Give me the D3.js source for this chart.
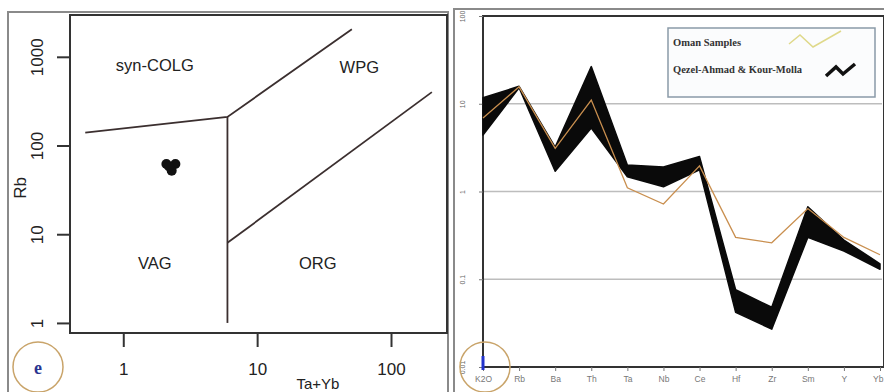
<!DOCTYPE html>
<html>
<head>
<meta charset="utf-8">
<script src="https://cdn.jsdelivr.net/npm/d3@7"></script>
<style>
  body { margin: 0; background: #fff; }
  svg { display: block; }
</style>
</head>
<body>
<svg id="chart" width="884" height="392"></svg>
<script>
// ---- left panel data: Rb vs Ta+Yb (Pearce 1984) ----
var taYb = [2.1, 2.45, 2.3, 2.2];
var rb = [62, 62, 52, 58];
var xTicksL = [1, 10, 100];
var yTicksL = [1, 10, 100, 1000];
// field boundaries [Ta+Yb, Rb]
var colgLine = [[0.52, 140], [6, 210], [51, 2050]];
var vertLine = [[6, 210], [6, 1]];
var orgLine = [[6, 8], [202, 400]];
var fieldNames = ["syn-COLG", "WPG", "VAG", "ORG"];
var fieldPos = [[1.72, 810], [58, 770], [1.72, 4.75], [28.4, 4.75]];

// ---- right panel data: ORG-normalised spider diagram ----
var elements = ["K2O", "Rb", "Ba", "Th", "Ta", "Nb", "Ce", "Hf", "Zr", "Sm", "Y", "Yb"];
var bandUpper = [11.7, 15.8, 3.2, 26.5, 2.0, 1.9, 2.5, 0.076, 0.048, 0.67, 0.28, 0.15];
var bandLower = [4.4, 15.2, 1.7, 5.3, 1.47, 1.13, 1.77, 0.042, 0.027, 0.30, 0.21, 0.13];
var oman = [6.9, 15.6, 3.1, 11, 1.1, 0.72, 1.96, 0.30, 0.26, 0.64, 0.30, 0.19];
var yTicksR = [0.01, 0.1, 1, 10, 100];
var legendNames = ["Oman Samples", "Qezel-Ahmad & Kour-Molla"];

var svg = d3.select("#chart");
var ink = "#3b2f2f";
var sans = "Liberation Sans, Arial, sans-serif";

// ================= left panel =================
var left = svg.append("g");
left.append("rect").attr("x", 8).attr("y", 12).attr("width", 440).attr("height", 382)
  .attr("fill", "none").attr("stroke", "#8a8a8a").attr("stroke-width", 2);

var xL = d3.scaleLog().domain([0.4, 262]).range([70, 447]);
var yL = d3.scaleLog().domain([0.77, 2960]).range([333, 15]);

left.append("rect").attr("x", 70).attr("y", 15).attr("width", 377).attr("height", 318)
  .attr("fill", "none").attr("stroke", "#333").attr("stroke-width", 2);

var xAxisL = left.append("g").attr("transform", "translate(0,333)")
  .call(d3.axisBottom(xL).tickValues(xTicksL).tickFormat(d3.format("d")).tickSize(14).tickPadding(16));
xAxisL.select(".domain").remove();
xAxisL.selectAll("line").attr("stroke", "#333").attr("stroke-width", 2);
xAxisL.selectAll("text").attr("font-family", sans).attr("font-size", 17).attr("fill", "#222");

var yAxisL = left.append("g").attr("transform", "translate(70,0)")
  .call(d3.axisLeft(yL).tickValues(yTicksL).tickFormat(d3.format("d")).tickSize(13).tickPadding(6));
yAxisL.select(".domain").remove();
yAxisL.selectAll("line").attr("stroke", "#333").attr("stroke-width", 2);
yAxisL.selectAll(".tick text")
  .attr("font-family", sans).attr("font-size", 17).attr("fill", "#222")
  .attr("text-anchor", "middle").attr("x", 0).attr("y", 0).attr("dy", "0.35em")
  .attr("transform", "translate(-33,0) rotate(-90)");

left.append("text").attr("transform", "translate(26,188) rotate(-90)")
  .attr("text-anchor", "middle").attr("font-family", sans)
  .attr("font-size", 17).attr("fill", "#222").text("Rb");
left.append("text").attr("x", 318).attr("y", 389).attr("text-anchor", "middle")
  .attr("font-family", sans).attr("font-size", 15)
  .attr("fill", "#222").text("Ta+Yb");

var lineL = d3.line().x(function (d) { return xL(d[0]); }).y(function (d) { return yL(d[1]); });
[colgLine, vertLine, orgLine].forEach(function (seg) {
  left.append("path").attr("d", lineL(seg)).attr("fill", "none")
    .attr("stroke", ink).attr("stroke-width", 1.8);
});

left.selectAll(".field").data(fieldNames).enter().append("text")
  .attr("x", function (d, i) { return xL(fieldPos[i][0]); })
  .attr("y", function (d, i) { return yL(fieldPos[i][1]); })
  .attr("text-anchor", "middle").attr("dy", "0.35em")
  .attr("font-family", sans).attr("font-size", 16.5)
  .attr("fill", "#222").text(function (d) { return d; });

left.selectAll(".pt").data(taYb).enter().append("circle")
  .attr("cx", function (d) { return xL(d); })
  .attr("cy", function (d, i) { return yL(rb[i]); })
  .attr("r", 5).attr("fill", "#111");

left.append("circle").attr("cx", 38).attr("cy", 367).attr("r", 25)
  .attr("fill", "none").attr("stroke", "#c9a46a").attr("stroke-width", 1.5);
left.append("text").attr("x", 38).attr("y", 374).attr("text-anchor", "middle")
  .attr("font-family", "Liberation Serif, serif").attr("font-weight", "bold")
  .attr("font-size", 18).attr("fill", "#2a3590").text("e");

// ================= right panel =================
var right = svg.append("g");
right.append("rect").attr("x", 454).attr("y", 9).attr("width", 432).attr("height", 386)
  .attr("fill", "none").attr("stroke", "#8a8a8a").attr("stroke-width", 2);

var xR = d3.scalePoint().domain(elements).range([483, 880]);
var yR = d3.scaleLog().domain([0.01, 100]).range([367, 16]);

right.selectAll(".grid").data(yTicksR.slice(1, 4)).enter().append("line")
  .attr("x1", 483).attr("x2", 882).attr("y1", function (d) { return yR(d); })
  .attr("y2", function (d) { return yR(d); }).attr("stroke", "#bdbdbd").attr("stroke-width", 1.5);

right.append("rect").attr("x", 483).attr("y", 16).attr("width", 401).attr("height", 351)
  .attr("fill", "none").attr("stroke", "#333").attr("stroke-width", 2);

var xAxisR = right.append("g").attr("transform", "translate(0,367)")
  .call(d3.axisBottom(xR).tickSize(4).tickPadding(5));
xAxisR.select(".domain").remove();
xAxisR.selectAll("line").attr("stroke", "#777");
xAxisR.selectAll("text").attr("font-family", sans).attr("font-size", 8.5).attr("fill", "#777");
// last label sits on the right edge
xAxisR.selectAll(".tick text").filter(function (d) { return d === elements[elements.length - 1]; })
  .attr("text-anchor", "end").attr("x", 3);

var yAxisR = right.append("g").attr("transform", "translate(483,0)")
  .call(d3.axisLeft(yR).tickValues(yTicksR).tickFormat(function (d) { return String(d); })
    .tickSize(4).tickPadding(4));
yAxisR.select(".domain").remove();
yAxisR.selectAll("line").attr("stroke", "#777");
yAxisR.selectAll(".tick text")
  .attr("font-family", sans).attr("font-size", 7).attr("fill", "#666")
  .attr("text-anchor", "middle").attr("x", 0).attr("y", 0).attr("dy", "0.35em")
  .attr("transform", "translate(-20,0) rotate(-90)");

var band = d3.area()
  .x(function (d, i) { return xR(elements[i]); })
  .y0(function (d, i) { return yR(bandLower[i]); })
  .y1(function (d, i) { return yR(bandUpper[i]); });
right.append("path").attr("d", band(bandUpper)).attr("fill", "#0a0a0a")
  .attr("stroke", "#0a0a0a").attr("stroke-width", 1.5).attr("stroke-linejoin", "round");

var lineR = d3.line().x(function (d, i) { return xR(elements[i]); }).y(function (d) { return yR(d); });
right.append("path").attr("d", lineR(oman)).attr("fill", "none")
  .attr("stroke", "#c98f4f").attr("stroke-width", 1.3);

// legend
var lg = right.append("g");
lg.append("rect").attr("x", 668).attr("y", 28).attr("width", 207).attr("height", 69)
  .attr("fill", "#fbfcfd").attr("stroke", "#8a9aa8").attr("stroke-width", 1.5);
lg.selectAll(".lt").data(legendNames).enter().append("text")
  .attr("x", 673).attr("y", function (d, i) { return 46 + i * 27; })
  .attr("font-family", "Liberation Serif, serif").attr("font-weight", "bold")
  .attr("font-size", 10.5).attr("fill", "#333").text(function (d) { return d; });
lg.append("path").attr("d", "M789,44 L800,35 L813,47 L841,31")
  .attr("fill", "none").attr("stroke", "#dfd98a").attr("stroke-width", 1.5);
lg.append("path").attr("d", "M826,76 L836,67 L843,74 L855,64")
  .attr("fill", "none").attr("stroke", "#111").attr("stroke-width", 3.5);

// annotation circle on the right panel origin
right.append("circle").attr("cx", 485).attr("cy", 367).attr("r", 25)
  .attr("fill", "none").attr("stroke", "#c9a46a").attr("stroke-width", 1.5);
right.append("line").attr("x1", 483).attr("x2", 483).attr("y1", 356).attr("y2", 370)
  .attr("stroke", "#2233cc").attr("stroke-width", 3);
</script>
</body>
</html>
